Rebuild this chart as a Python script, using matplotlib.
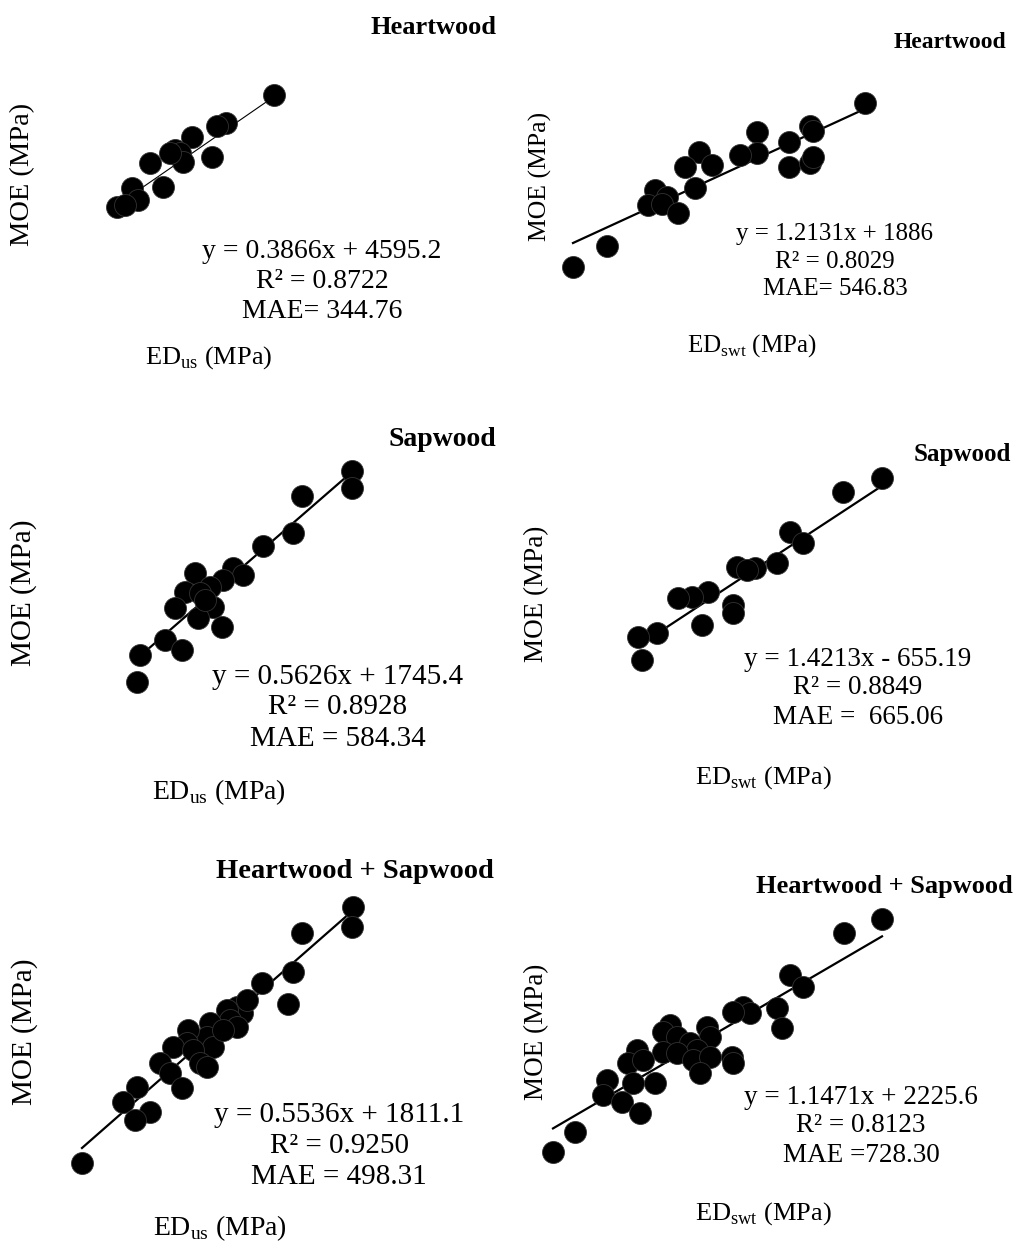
import matplotlib.pyplot as plt
import numpy as np

plt.rcParams['font.family'] = ['Liberation Serif', 'DejaVu Serif']
plt.rcParams['mathtext.fontset'] = 'custom'
plt.rcParams['mathtext.rm'] = 'Liberation Serif'

W, H = 1013, 1242

# Heartwood, ultrasound (MPa)
hw_us_x = [15850, 13450, 13000, 11750, 10900, 11150, 11300, 12750, 9650, 10300, 8750, 9050, 8000, 8400, 10650]
hw_us_y = [10768, 9984, 9900, 9592, 9228, 9144, 8892, 9032, 8864, 8192, 8164, 7828, 7632, 7688, 9144]
# Heartwood, stress wave
hw_swt_x = [10840, 9740, 9800, 8680, 9320, 8680, 8340, 7520, 7780, 7240, 7440, 6640, 6880, 6500, 6780,
            7100, 9320, 9740, 9800, 5680, 5000]
hw_swt_y = [15344, 14130, 13866, 13813, 13285, 12704, 12598, 12757, 12070, 11965, 10856, 10750, 10381, 9958, 10011,
            9536, 11965, 12176, 12493, 7794, 6685]
# Sapwood, ultrasound
sw_us_x = [16600, 16600, 14600, 14240, 13040, 11840, 12240, 11440, 10320, 10920, 9920, 11040, 9520, 10440, 11400,
           9120, 9800, 8120, 8000, 10520, 10720]
sw_us_y = [11107, 10667, 10460, 9501, 9165, 8595, 8414, 8284, 8465, 8103, 7973, 7585, 7559, 7300, 7067,
           6730, 6471, 6341, 5642, 7947, 7766]
# Sapwood, stress wave
sw_swt_x = [11880, 11100, 10040, 10300, 9780, 9340, 8980, 9180, 8400, 8080, 7800, 8900, 8900, 8280, 7380, 7000, 7080]
sw_swt_y = [16570, 15964, 14232, 13755, 12889, 12673, 12716, 12586, 11634, 11417, 11374, 11071, 10724, 10205, 9858,
            9685, 8689]
# Heartwood + Sapwood, ultrasound
all_us_x = [15840, 15800, 13800, 13440, 13240, 12200, 11200, 11400, 10800, 10920, 11200, 10120, 10000, 10240, 9240,
            9200, 8640, 9440, 9720, 10000, 8120, 8520, 9000, 7200, 6640, 7720, 7120, 5000, 11600, 10640]
all_us_y = [10664, 10159, 10008, 9023, 8215, 8745, 8139, 7988, 8064, 7811, 7634, 7735, 7382, 7129, 7559,
            7230, 7129, 7054, 6725, 6624, 6725, 6473, 6094, 6119, 5741, 5488, 5286, 4200, 8316, 7559]
# Heartwood + Sapwood, stress wave
all_swt_x = [10600, 9840, 8760, 9020, 8500, 8600, 7820, 7960, 7620, 7100, 7160, 6360, 6220, 6500, 6760, 6900, 6220,
             6500, 6820, 7160, 7600, 7620, 6960, 5700, 5520, 5820, 6060, 5620, 5100, 5020, 5400, 5760, 4460, 4020]
all_swt_y = [15067, 14517, 12866, 12395, 11569, 10783, 11609, 11373, 11412, 10823, 10430, 10901, 10626, 10430, 10194,
             9919, 9840, 9801, 9526, 9644, 9644, 9408, 9015, 9919, 9408, 9526, 8622, 8622, 8740, 8150, 7875, 7443,
             6696, 5910]

slopes = [0.3866, 1.2131, 0.5626, 1.4213, 0.5536, 1.1471]
intercepts = [4595.2, 1886, 1745.4, -655.19, 1811.1, 2225.6]
titles = ['Heartwood', 'Heartwood', 'Sapwood', 'Sapwood', 'Heartwood + Sapwood', 'Heartwood + Sapwood']
eq_texts = ['y = 0.3866x + 4595.2', 'y = 1.2131x + 1886', 'y = 0.5626x + 1745.4',
            'y = 1.4213x - 655.19', 'y = 0.5536x + 1811.1', 'y = 1.1471x + 2225.6']
r2_texts = ['R² = 0.8722', 'R² = 0.8029', 'R² = 0.8928', 'R² = 0.8849', 'R² = 0.9250', 'R² = 0.8123']
mae_texts = ['MAE= 344.76', 'MAE= 546.83', 'MAE = 584.34', 'MAE =  665.06', 'MAE = 498.31', 'MAE =728.30']
xlabels = ['ED$_{\\mathrm{us}}$ (MPa)', 'ED$_{\\mathrm{swt}}$ (MPa)'] * 3

xs = [hw_us_x, hw_swt_x, sw_us_x, sw_swt_x, all_us_x, all_swt_x]
ys = [hw_us_y, hw_swt_y, sw_us_y, sw_swt_y, all_us_y, all_swt_y]

# layout: axes box in pixels (left, top, right, bottom) and data limits
boxes = [(60, 70, 400, 280), (540, 70, 920, 280), (60, 440, 400, 720),
         (540, 440, 920, 720), (40, 870, 400, 1190), (520, 870, 920, 1190)]
xlims = [(5150, 22150), (4340, 11940), (4920, 18520), (5040, 12640), (3320, 17720), (3360, 11360)]
ylims = [(5588, 11468), (5998, 17086), (4658, 11910), (6091, 18215), (3518, 11599), (4417, 16993)]
line_w = [0.8, 1.6, 1.6, 1.6, 1.6, 1.6]

# text positions in pixels: title, ylabel, equation block (x, y1, y2, y3), xlabel
title_pos = [(433, 27, 19), (950, 42, 17), (442, 439, 20), (962, 454, 18), (355, 871, 20.5), (884, 886, 19)]
ylab_pos = [(23, 174, 20.5), (540, 176, 18.5), (24, 593, 21), (537, 594, 19.5), (25, 1032, 21), (537, 1032, 19.5)]
eq_pos = [(322, 251, 281, 312, 20), (835, 234, 262, 289, 18), (338, 677, 707, 739, 21),
          (858, 659, 687, 717, 19.5), (339, 1115, 1146, 1177, 21), (861, 1097, 1126, 1155, 19.5)]
xlab_pos = [(209, 358, 19), (752, 346, 18), (219, 792, 20), (763, 778, 19), (220, 1228, 20), (763, 1214, 19)]

fig = plt.figure(figsize=(W / 100, H / 100), dpi=100)

def fx(px):
    return px / W

def fy(py):
    return 1 - py / H

for i in range(6):
    L, T, R, B = boxes[i]
    ax = fig.add_axes([fx(L), fy(B), (R - L) / W, (B - T) / H])
    x = np.array(xs[i])
    y = np.array(ys[i])
    xl = np.array([x.min(), x.max()])
    ax.plot(xl, slopes[i] * xl + intercepts[i], color='black', lw=line_w[i], zorder=1)
    ax.scatter(x, y, s=250, color='black', edgecolors='#333333', linewidths=0.6, zorder=2)
    ax.set_xlim(xlims[i])
    ax.set_ylim(ylims[i])
    ax.axis('off')

    tx, ty, ts = title_pos[i]
    fig.text(fx(tx), fy(ty), titles[i], ha='center', va='center', fontsize=ts, fontweight='bold')
    lx, ly, ls = ylab_pos[i]
    fig.text(fx(lx), fy(ly), 'MOE (MPa)', ha='center', va='center', rotation=90, fontsize=ls)
    ex, e1, e2, e3, es = eq_pos[i]
    fig.text(fx(ex), fy(e1), eq_texts[i], ha='center', va='center', fontsize=es)
    fig.text(fx(ex), fy(e2), r2_texts[i], ha='center', va='center', fontsize=es)
    fig.text(fx(ex), fy(e3), mae_texts[i], ha='center', va='center', fontsize=es)
    bx, by, bs = xlab_pos[i]
    fig.text(fx(bx), fy(by), xlabels[i], ha='center', va='center', fontsize=bs)

fig.savefig('out.png', dpi=100, facecolor='white')
